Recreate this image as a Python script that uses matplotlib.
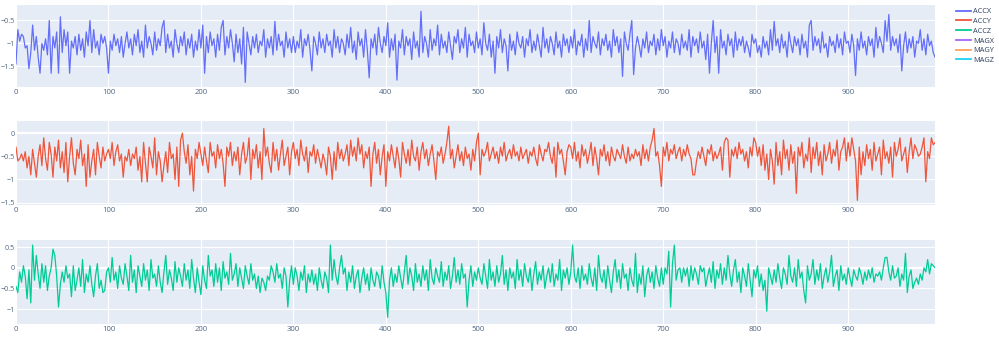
import numpy as np
import matplotlib.pyplot as plt
from matplotlib.lines import Line2D
from matplotlib.ticker import FuncFormatter

plt.rcParams['font.family'] = ['Open Sans', 'DejaVu Sans']

# probki co 2 jednostki, x = 0..994
x = np.arange(0, 995, 2)

accx = [
    -1.45, -0.7, -0.95, -0.8, -0.85, -1.1, -1.05, -1.55, -1.2, -0.6,
    -1.15, -0.85, -1.3, -1.65, -1.0, -1.15, -0.9, -1.25, -0.5, -1.65,
    -0.85, -1.1, -0.75, -1.65, -0.42, -1.2, -0.7, -1.05, -0.75, -1.65,
    -0.95, -1.1, -0.85, -1.25, -0.8, -1.15, -0.9, -1.3, -0.75, -1.05,
    -0.5, -1.2, -0.7, -1.1, -0.95, -1.25, -0.8, -1.0, -0.85, -1.1,
    -1.65, -0.95, -1.15, -0.8, -1.05, -0.9, -1.2, -0.85, -1.3, -1.0,
    -0.75, -1.1, -0.9, -1.25, -0.8, -1.05, -0.7, -1.2, -0.95, -1.3,
    -0.6, -1.1, -0.85, -1.0, -1.25, -0.75, -1.15, -0.9, -1.05, -0.65,
    -0.5, -1.2, -0.8, -1.1, -0.95, -1.3, -0.7, -1.0, -1.2, -0.85,
    -1.05, -0.75, -1.25, -0.9, -1.1, -0.8, -1.3, -0.95, -1.15, -0.7,
    -1.1, -0.6, -1.65, -0.85, -1.2, -0.75, -1.05, -0.9, -1.3, -0.8,
    -1.15, -0.65, -0.5, -1.25, -0.85, -1.1, -0.7, -1.0, -1.4, -0.8,
    -1.2, -0.9, -1.45, -0.65, -1.85, -0.75, -1.0, -1.25, -0.85, -1.1,
    -0.8, -1.2, -0.95, -1.05, -0.7, -1.3, -0.9, -1.1, -0.85, -1.25,
    -0.52, -1.15, -0.8, -1.05, -0.95, -1.3, -0.75, -1.1, -0.9, -1.2,
    -0.85, -1.2, -0.95, -1.1, -0.7, -1.3, -0.9, -1.05, -0.8, -1.15,
    -1.6, -0.85, -1.0, -1.25, -0.75, -1.1, -0.9, -1.2, -0.8, -1.05,
    -0.95, -1.3, -0.7, -1.1, -0.85, -1.2, -0.9, -1.0, -1.25, -0.8,
    -1.1, -0.65, -1.2, -0.95, -1.35, -0.75, -1.05, -0.9, -1.3, -0.7,
    -1.15, -1.75, -0.9, -1.1, -0.8, -1.25, -0.65, -1.0, -1.2, -0.85,
    -1.05, -0.55, -1.3, -0.9, -1.15, -0.8, -1.8, -0.95, -1.1, -0.7,
    -1.25, -0.85, -1.05, -0.9, -1.35, -0.75, -1.1, -0.95, -1.3, -0.3,
    -1.2, -0.85, -1.0, -1.3, -0.7, -1.15, -0.9, -1.05, -0.6, -1.25,
    -0.8, -1.1, -0.95, -1.2, -0.75, -1.05, -1.35, -0.85, -1.0, -0.7,
    -1.2, -0.9, -1.1, -0.65, -1.3, -0.8, -1.05, -0.95, -1.2, -0.75,
    -1.1, -0.9, -1.25, -0.55, -1.0, -1.15, -0.8, -1.3, -0.95, -1.65,
    -0.85, -1.1, -0.7, -1.2, -0.9, -1.05, -1.6, -0.8, -1.15, -0.95,
    -1.25, -0.75, -1.0, -1.1, -0.85, -1.3, -0.9, -1.05, -0.7, -1.2,
    -0.95, -1.15, -0.8, -1.05, -1.3, -0.65, -1.1, -0.9, -1.2, -0.85,
    -1.0, -1.25, -0.75, -1.1, -0.95, -1.3, -0.8, -1.05, -0.9, -1.2,
    -0.85, -1.1, -0.7, -1.25, -0.95, -1.05, -0.8, -1.3, -0.9, -1.15,
    -0.5, -1.2, -0.85, -1.0, -1.1, -0.75, -1.25, -0.9, -1.05, -0.8,
    -1.15, -0.95, -1.3, -0.7, -1.05, -0.85, -1.2, -0.9, -1.72, -0.75,
    -1.0, -1.15, -0.8, -0.5, -1.68, -1.1, -0.85, -1.05, -1.3, -0.9,
    -1.1, -0.75, -1.2, -0.95, -1.05, -0.8, -1.25, -0.9, -1.15, -0.7,
    -1.05, -0.85, -1.3, -0.95, -1.1, -0.75, -1.2, -0.9, -1.0, -1.25,
    -0.8, -1.1, -0.95, -1.15, -0.7, -1.3, -0.85, -1.05, -0.9, -1.2,
    -0.75, -1.1, -0.95, -1.35, -0.8, -1.65, -1.0, -0.5, -1.2, -0.85,
    -1.65, -0.7, -1.1, -0.95, -1.25, -0.8, -1.05, -0.9, -1.3, -0.75,
    -1.15, -0.9, -1.05, -0.85, -1.2, -0.95, -1.1, -1.3, -0.8, -1.0,
    -0.9, -1.2, -1.05, -1.3, -0.85, -1.1, -0.95, -1.25, -0.7, -1.15,
    -0.52, -1.05, -0.9, -1.2, -0.8, -1.1, -0.95, -1.3, -0.75, -1.0,
    -1.2, -0.85, -1.05, -0.9, -1.25, -0.8, -1.1, -0.95, -1.3, -0.6,
    -0.5, -1.15, -0.85, -1.05, -0.9, -1.2, -0.75, -1.1, -1.0, -1.3,
    -0.85, -1.05, -0.95, -1.2, -0.8, -1.1, -0.9, -1.25, -0.75, -1.0,
    -0.95, -1.2, -0.8, -1.05, -1.7, -0.9, -1.15, -0.75, -1.1, -0.95,
    -1.25, -0.85, -1.05, -0.9, -1.3, -0.65, -1.1, -0.85, -1.0, -1.2,
    -0.5, -0.95, -0.37, -1.15, -0.85, -1.05, -0.9, -1.2, -0.8, -1.6,
    -1.05, -0.75, -1.2, -0.9, -1.1, -0.85, -1.3, -0.95, -1.0, -0.7,
    -1.15, -0.9, -1.25, -0.8, -1.05, -0.95, -1.2, -1.3,
]

accy = [
    -0.3, -0.6, -0.55, -0.45, -0.6, -0.4, -0.75, -0.5, -0.9, -0.35,
    -0.65, -0.95, -0.5, -0.25, -0.7, -0.1, -0.55, -0.8, -0.2, -0.45,
    -0.95, -0.3, -0.6, -0.15, -0.75, -0.4, -0.85, -0.2, -1.05, -0.5,
    -0.1, -0.65, -0.9, -0.35, -0.55, -0.15, -0.7, -0.45, -1.15, -0.25,
    -0.95, -0.6, -0.35, -0.9, -0.2, -0.5, -0.75, -0.3, -0.6, -0.45,
    -0.35, -0.55, -0.2, -0.7, -0.4, -0.25, -0.6, -0.45, -0.95, -0.5,
    -0.6, -0.35, -0.7, -0.45, -0.55, -0.3, -0.8, -0.5, -1.05, -0.2,
    -0.65, -1.05, -0.3, -0.5, -0.75, -0.1, -0.9, -0.4, -0.6, -1.05,
    -0.7, -0.4, -0.85, -0.2, -0.55, -0.45, -1.0, -0.3, -1.15, -0.15,
    0.0, -0.4, -0.65, -0.25, -0.9, -0.5, -1.25, -0.35, -0.55, -0.2,
    -0.45, -0.7, -0.3, -0.6, -0.85, -0.2, -0.5, -0.4, -0.75, -0.25,
    -0.55, -0.35, -0.65, -1.15, -0.3, -0.5, -0.2, -0.7, -0.4, -0.6,
    -0.3, -0.9, -0.45, -0.2, -0.65, -0.5, -0.1, -1.0, -0.35, -0.55,
    -0.25, -0.75, -0.4, -1.0, 0.1, -0.5, -0.3, -0.65, -0.85, -0.2,
    -0.6, -0.35, -0.8, -0.45, -0.15, -0.7, -0.5, -0.3, -0.9, -0.4,
    -0.2, -0.55, -0.35, -0.7, -0.15, -0.45, -0.6, -0.3, -0.85, -0.4,
    -0.5, -0.25, -0.65, -0.35, -0.55, -0.75, -0.45, -0.6, -0.9, -0.3,
    -0.5, -1.0, -0.4, -0.8, -0.2, -0.55, -0.35, -0.6, -0.45, -0.25,
    -0.7, -0.15, -0.5, -0.3, -0.6, -0.1, -0.45, -0.25, -0.75, -0.4,
    -0.55, -0.3, -1.15, -0.45, -0.2, -0.65, -0.35, -0.9, -0.5, -0.25,
    -1.15, -0.4, -0.6, -0.25, -0.5, -0.75, -0.3, -0.55, -0.95, -0.2,
    -0.45, -0.65, -0.35, -0.7, -0.15, -0.5, -0.6, -0.3, -0.8, -0.4,
    -0.2, -0.55, -0.35, -0.7, -0.45, -0.25, -0.6, -1.0, -0.4, -0.5,
    -0.3, -0.65, -0.45, -0.2, 0.15, -0.55, -0.35, -0.75, -0.5, -0.25,
    -0.6, -0.4, -0.7, -0.3, -0.55, -0.45, -0.8, -0.35, -0.6, -0.2,
    0.0, -0.9, -0.35, -0.5, -0.4, -0.2, -0.6, -0.45, -0.3, -0.55,
    -0.4, -0.65, -0.3, -0.5, -0.2, -0.6, -0.45, -0.35, -0.55, -0.25,
    -0.5, -0.4, -0.6, -0.3, -0.55, -0.45, -0.35, -0.65, -0.4, -0.5,
    -0.3, -0.55, -0.7, -0.25, -0.45, -0.6, -0.35, -0.4, -0.2, -0.5,
    -0.65, -0.3, -0.95, -0.2, -0.45, -0.35, -0.6, -0.9, -0.4, -0.25,
    -0.3, -0.55, -0.2, -0.6, -0.4, -0.75, -0.25, -0.5, -0.35, -0.65,
    -0.45, -0.2, -0.7, -0.3, -0.55, -0.9, -0.35, -0.5, -0.25, -0.6,
    -0.4, -0.7, -0.3, -0.5, -0.6, -0.35, -0.45, -0.55, -0.25, -0.5,
    -0.65, -0.3, -0.6, -0.45, -0.55, -0.35, -0.5, -0.4, -0.7, -0.25,
    -0.55, -0.35, -0.6, -0.3, -0.15, 0.1, -0.5, -0.4, -0.7, -1.15,
    -0.3, -0.5, -0.2, -0.6, -0.35, -0.45, -0.25, -0.55, -0.4, -0.3,
    -0.6, -0.35, -0.5, -0.25, -0.45, -0.55, -0.9, -0.9, -0.6, -0.4,
    -0.55, -0.3, -0.5, -0.7, -0.35, -0.45, -0.25, -0.6, -0.4, -0.55,
    -0.45, -0.3, -0.8, -0.2, -0.1, -0.15, -0.95, -0.35, -0.5, -0.3,
    -0.55, -0.2, -0.45, -0.35, -0.6, -0.4, -0.75, -0.3, -0.5, -0.1,
    -0.2, -0.5, -0.3, -0.7, -0.25, -0.8, -0.45, -1.0, -0.35, -0.6,
    -1.1, -0.2, -0.7, -0.4, -0.9, -0.15, -0.55, -0.35, -0.8, -0.25,
    -0.65, -0.4, -1.3, -0.3, -0.5, -0.2, -0.75, -0.45, -0.6, -0.1,
    -0.85, -0.3, -0.55, -0.2, -0.7, -0.4, -0.9, -0.25, -0.6, -0.45,
    -0.2, -0.65, -0.35, -0.5, -0.15, -0.8, -0.4, -0.3, -0.1, -0.6,
    -0.2, -0.5, -0.1, -0.35, -0.6, -1.45, -0.3, -0.9, -0.4, -0.7,
    -0.25, -0.55, -0.35, -0.8, -0.2, -0.6, -0.45, -0.3, -0.9, -0.15,
    -0.55, -0.4, -0.65, -0.3, -0.95, -0.2, -0.5, -0.35, -0.1, -0.6,
    -0.45, -0.3, -0.85, -0.4, -0.1, -0.55, -0.25, -0.35, -0.5, -0.45,
    -0.3, -0.1, -1.05, -0.4, -0.55, -0.1, -0.25, -0.2,
]

accz = [
    -0.45, -0.6, -0.1, -0.35, 0.05, -0.2, -0.75, -0.05, -0.85, 0.55,
    -0.3, 0.3, -0.15, -0.5, 0.1, -0.35, 0.05, -0.55, -0.2, 0.0,
    0.45, 0.3, -0.2, -0.95, -0.4, -0.1, -0.35, 0.05, -0.25, -0.15,
    -0.7, 0.05, -0.55, -0.3, 0.0, -0.45, 0.2, -0.6, -0.15, -0.35,
    0.05, -0.4, -0.7, -0.2, 0.1, -0.5, -0.3, -0.6, -0.55, -0.1,
    0.0, -0.35, 0.25, -0.3, -0.1, -0.5, 0.05, -0.25, -0.4, 0.1,
    -0.2, -0.55, 0.3, -0.35, -0.05, -0.6, 0.05, -0.2, -0.45, 0.1,
    -0.3, -0.05, -0.55, 0.2, -0.25, -0.15, -0.45, 0.05, -0.35, -0.6,
    -0.1, 0.3, -0.4, -0.05, -0.25, -0.55, 0.15, -0.35, 0.0, -0.2,
    -0.45, 0.1, -0.3, -0.05, -0.5, 0.2, -0.25, -0.6, 0.0, -0.35,
    -0.65, 0.05, -0.3, -0.5, 0.3, -0.2, -0.05, -0.45, 0.1, -0.35,
    0.0, -0.55, 0.15, -0.25, -0.1, -0.4, 0.35, -0.3, -0.15, 0.1,
    -0.45, 0.0, -0.25, -0.5, 0.05, -0.2, -0.4, 0.1, -0.3, -0.15,
    -0.5, -0.2, -0.6, -0.25, -0.35, -0.55, -0.2, -0.3, 0.05, -0.1,
    -0.35, 0.1, -0.25, -0.15, -0.5, 0.0, -0.2, -0.95, -0.3, 0.05,
    -0.4, 0.0, -0.2, -0.55, -0.1, -0.3, 0.05, -0.6, -0.15, -0.35,
    -0.05, -0.4, -0.15, -0.55, 0.0, -0.3, -0.5, -0.1, -0.25, -0.6,
    0.55, -0.3, 0.2, -0.2, -0.4, 0.0, 0.3, -0.15, 0.0, -0.55,
    -0.1, -0.35, 0.05, -0.5, -0.2, -0.05, -0.6, -0.25, 0.0, -0.4,
    -0.15, -0.55, 0.0, -0.3, -0.45, -0.1, -0.2, -0.5, 0.05, -0.35,
    -0.6, -1.2, -0.3, 0.0, -0.45, -0.15, -0.35, 0.05, -0.25, -0.5,
    -0.1, 0.3, -0.4, 0.0, -0.2, -0.55, 0.1, -0.35, -0.15, -0.45,
    0.05, -0.3, -0.05, -0.55, 0.2, -0.25, -0.4, 0.0, -0.2, -0.35,
    0.15, -0.45, -0.1, -0.3, 0.05, -0.5, -0.2, 0.25, -0.35, -0.05,
    -0.4, 0.1, -0.25, -0.15, -0.95, -0.3, 0.05, -0.45, -0.1, -0.3,
    0.0, -0.25, -0.4, 0.1, -0.2, -0.5, 0.2, -0.3, -0.1, -0.45,
    0.05, -0.35, -0.15, 0.3, -0.4, -0.05, -0.55, 0.0, -0.25, -0.1,
    -0.5, 0.2, -0.3, -0.05, -0.45, 0.1, -0.2, -0.35, 0.0, -0.55,
    -0.15, 0.15, -0.4, -0.1, -0.3, 0.05, -0.5, -0.2, 0.0, -0.35,
    0.1, -0.45, -0.15, -0.3, 0.2, -0.55, -0.05, -0.25, 0.0, -0.4,
    -0.1, 0.55, -0.2, -0.35, 0.0, -0.5, 0.05, -0.3, -0.15, -0.4,
    0.1, -0.25, -0.45, 0.0, -0.55, 0.3, -0.2, -0.35, -0.05, -0.5,
    0.05, -0.3, -0.6, -0.1, 0.2, -0.35, -0.05, -0.5, 0.1, -0.25,
    -0.15, -0.55, 0.0, -0.3, -0.45, 0.35, -0.6, -0.15, -0.4, 0.05,
    -0.7, -0.2, 0.0, -0.35, -0.1, -0.5, 0.05, -0.25, -0.45, 0.0,
    -0.4, 0.0, -0.15, 0.4, -0.95, 0.1, 0.55, -0.3, -0.05, 0.0,
    -0.35, 0.0, -0.2, 0.0, -0.45, 0.05, -0.3, 0.0, -0.15, -0.4,
    0.05, -0.1, 0.0, -0.45, -0.2, 0.0, -0.35, 0.15, -0.5, -0.05,
    -0.25, 0.1, -0.4, 0.0, -0.3, 0.3, -0.15, -0.45, -0.05, 0.2,
    -0.35, -0.1, -0.6, 0.0, -0.2, -0.45, 0.1, -0.3, -0.7, -0.05,
    -0.25, 0.05, -0.45, -0.15, -0.55, -0.3, -1.05, 0.0, -0.2, -0.4,
    -0.05, -0.35, 0.1, -0.25, -0.5, 0.0, -0.15, -0.4, 0.3, -0.2,
    -0.35, 0.0, -0.45, 0.2, -0.25, -0.1, -0.55, -0.85, 0.05, -0.3,
    -0.15, 0.2, -0.4, -0.05, -0.3, 0.1, -0.5, -0.2, 0.0, -0.35,
    -0.1, 0.3, -0.45, -0.2, -0.05, -0.55, 0.05, -0.3, -0.15, -0.4,
    0.0, -0.25, -0.45, -0.05, -0.2, -0.3, 0.0, -0.15, -0.4, -0.1,
    -0.3, -0.05, -0.25, 0.0, -0.35, -0.15, -0.2, -0.1, -0.3, 0.0,
    0.25, 0.25, -0.1, -0.3, 0.05, -0.25, -0.2, 0.0, -0.45, -0.15,
    -0.3, 0.35, -0.6, -0.2, -0.05, -0.5, -0.35, -0.25, -0.4, -0.15,
    -0.3, 0.0, -0.1, 0.2, -0.15, 0.1, 0.05, 0.0,
]

nazwy = ['ACCX', 'ACCY', 'ACCZ', 'MAGX', 'MAGY', 'MAGZ']
kolory = ['#636efa', '#EF553B', '#00cc96', '#ab63fa', '#FFA15A', '#19d3f3']

xticks = [0, 100, 200, 300, 400, 500, 600, 700, 800, 900]
yticks1 = [-1.5, -1, -0.5]
yticks2 = [-1.5, -1, -0.5, 0]
yticks3 = [-1, -0.5, 0, 0.5]

fig = plt.figure(figsize=(9.99, 3.48), dpi=100)

# pozycje osi [lewo, dol, szerokosc, wysokosc]
ax1 = fig.add_axes([0.016, 0.750, 0.920, 0.236])
ax2 = fig.add_axes([0.016, 0.411, 0.920, 0.241])
ax3 = fig.add_axes([0.016, 0.069, 0.920, 0.241])

fmt = FuncFormatter(lambda v, p: ('%g' % v).replace('-', '\u2212'))

for ax, y, kol, yt, yl in [(ax1, accx, kolory[0], yticks1, (-1.95, -0.16)),
                           (ax2, accy, kolory[1], yticks2, (-1.55, 0.26)),
                           (ax3, accz, kolory[2], yticks3, (-1.36, 0.67))]:
    ax.set_facecolor('#E5ECF6')
    ax.plot(x, y, color=kol, linewidth=0.9)
    ax.set_xlim(0, 994)
    ax.set_ylim(*yl)
    ax.set_xticks(xticks)
    ax.set_yticks(yt)
    ax.yaxis.set_major_formatter(fmt)
    ax.grid(True, color='white', linewidth=0.8)
    ax.set_axisbelow(True)
    for s in ax.spines.values():
        s.set_visible(False)
    ax.tick_params(axis='y', length=0, labelsize=5.2, colors='#506784', pad=1)
    ax.tick_params(axis='x', length=0, labelsize=5.6, colors='#506784', pad=1.5)
    if 0 >= yl[0] and 0 <= yl[1]:
        ax.axhline(0, color='white', linewidth=1.6, zorder=0.5)

uchwyty = [Line2D([0], [0], color=k, linewidth=1.3) for k in kolory]
fig.legend(uchwyty, nazwy, loc='upper left', bbox_to_anchor=(0.954, 0.985),
           frameon=False, fontsize=5.3, labelcolor='#2a3f5f',
           handlelength=2.0, handletextpad=0.35, labelspacing=0.35,
           borderaxespad=0)

plt.savefig('out.png', dpi=100)
